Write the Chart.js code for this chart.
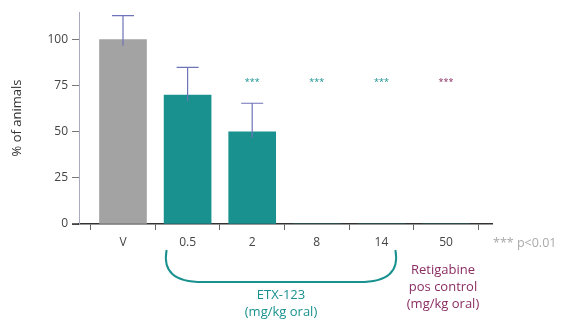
<!DOCTYPE html>
<html><head><meta charset="utf-8">
<script src="https://cdn.jsdelivr.net/npm/chart.js@4"></script>
<style>html,body{margin:0;padding:0;background:#fff}#wrap{width:565px;height:324px}</style>
</head><body><div id="wrap"><canvas id="c" width="565" height="324"></canvas></div>
<script>
const categories = ['V', '0.5', '2', '8', '14', '50'];
const values = [100, 70, 50, 0, 0, 0];
const errorTops = [113, 85, 65.5, null, null, null];
const stars = ['', '', '***', '***', '***', '***'];
const yTicks = [0, 25, 50, 75, 100];

const TEAL = '#18918f', GRAY = '#a3a3a3', PURPLE = '#8a2e63';
const barColors = [GRAY, TEAL, TEAL, TEAL, TEAL, TEAL];
const starColors = [TEAL, TEAL, TEAL, TEAL, TEAL, PURPLE];
const FONT = '"Open Sans", "DejaVu Sans", sans-serif';

const overlay = {
  id: 'overlay',
  afterDatasetsDraw(chart) {
    const ctx = chart.ctx, x = chart.scales.x, y = chart.scales.y;
    ctx.save();
    // x axis line extending to the 0 tick
    ctx.strokeStyle = '#333'; ctx.lineWidth = 1.5;
    ctx.beginPath(); ctx.moveTo(x.left - 7, y.bottom); ctx.lineTo(x.left, y.bottom); ctx.stroke();
    // error bars
    ctx.strokeStyle = '#6f73b8'; ctx.lineWidth = 1.2;
    errorTops.forEach((e, i) => {
      if (e == null) return;
      const px = x.getPixelForValue(i);
      const top = y.getPixelForValue(e), base = y.getPixelForValue(values[i]) + 6;
      ctx.beginPath(); ctx.moveTo(px, base); ctx.lineTo(px, top);
      ctx.moveTo(px - 11, top); ctx.lineTo(px + 11, top); ctx.stroke();
    });
    // stars
    ctx.font = '9px ' + FONT; ctx.textAlign = 'center'; ctx.textBaseline = 'middle';
    stars.forEach((s, i) => {
      if (!s) return;
      ctx.fillStyle = starColors[i];
      ctx.fillText(s, x.getPixelForValue(i), y.getPixelForValue(77));
    });
    // p-value note
    ctx.font = '12.5px ' + FONT; ctx.textAlign = 'left'; ctx.fillStyle = '#aaaaaa';
    ctx.fillText('*** p<0.01', x.right + 1, 243);
    // bracket
    const l = x.getPixelForValue(1) - 21, r = x.getPixelForValue(4) + 14;
    ctx.strokeStyle = TEAL; ctx.lineWidth = 2;
    ctx.beginPath();
    ctx.moveTo(l, 250);
    ctx.bezierCurveTo(l - 4, 272, l + 8, 282, l + 36, 282);
    ctx.lineTo(r - 36, 282);
    ctx.bezierCurveTo(r - 8, 282, r + 4, 272, r, 250);
    ctx.stroke();
    // group labels
    ctx.font = '13px ' + FONT; ctx.textAlign = 'center';
    ctx.fillStyle = TEAL;
    const mid = (l + r) / 2;
    ctx.fillText('ETX-123', mid, 295);
    ctx.fillText('(mg/kg oral)', mid, 312);
    ctx.fillStyle = PURPLE;
    const p50 = x.getPixelForValue(5) - 3;
    ctx.fillText('Retigabine', p50, 270);
    ctx.fillText('pos control', p50, 287);
    ctx.fillText('(mg/kg oral)', p50, 304);
    ctx.restore();
  }
};

new Chart(document.getElementById('c'), {
  type: 'bar',
  data: {
    datasets: [{
      data: values.map((v, i) => ({ x: i, y: v })),
      backgroundColor: barColors,
      borderWidth: 0,
      barThickness: 47
    }]
  },
  options: {
    responsive: false, animation: false,
    layout: { padding: { top: 12, right: 73, left: 0, bottom: 0 } },
    plugins: { legend: { display: false }, tooltip: { enabled: false } },
    scales: {
      x: {
        type: 'linear', min: -0.681, max: 5.712, offset: false,
        afterFit(s) { s.height = 100; },
        afterBuildTicks(s) { s.ticks = categories.map((c, i) => ({ value: i })); },
        ticks: {
          autoSkip: false, maxRotation: 0, padding: 5,
          color: '#444', font: { family: FONT, size: 12 },
          callback: (v) => categories[v] ?? ''
        },
        grid: { drawOnChartArea: false, tickLength: 6, color: '#666', tickWidth: 1 },
        border: { display: true, color: '#333', width: 1.5 }
      },
      y: {
        min: 0, max: 115,
        afterFit(s) { s.width = 79; },
        afterBuildTicks(s) { s.ticks = yTicks.map(v => ({ value: v })); },
        ticks: { color: '#444', font: { family: FONT, size: 12 }, padding: 4 },
        grid: { drawOnChartArea: false, tickLength: 7, color: '#777' },
        border: { display: true, color: '#a9a9c0', width: 1 },
        title: { display: true, text: '% of animals', color: '#333', font: { family: FONT, size: 13 }, padding: { top: 9, bottom: 0 } }
      }
    }
  },
  plugins: [overlay]
});
</script></body></html>
